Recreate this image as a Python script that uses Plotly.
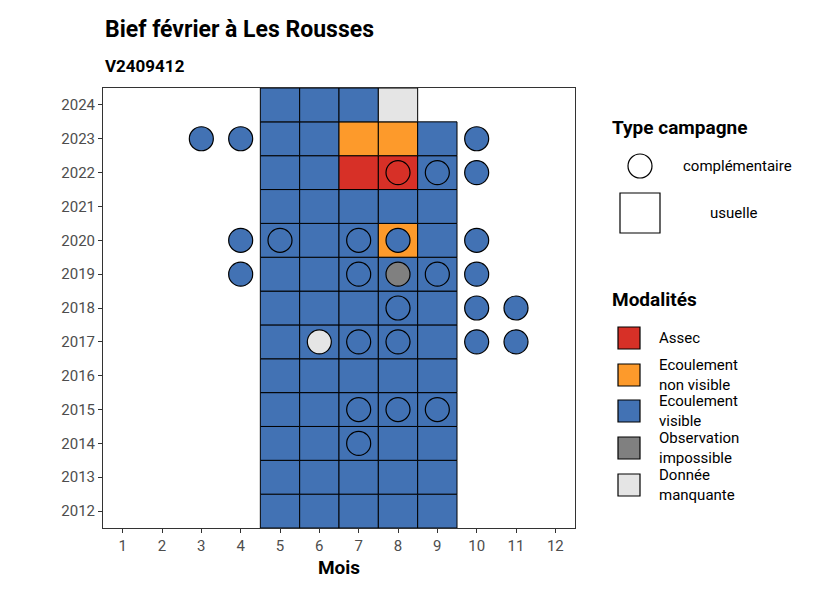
import plotly.graph_objects as go

# Tiles (usual campaigns): year, month, modality
YEARS = list(range(2012, 2025))
MONTHS = list(range(1, 13))
tile_years = [y for y in range(2012, 2024) for m in range(5, 10)] + [2024] * 4
tile_months = [m for y in range(2012, 2024) for m in range(5, 10)] + [5, 6, 7, 8]
overrides = {
    (2023, 7): "Ecoulement non visible", (2023, 8): "Ecoulement non visible",
    (2022, 7): "Assec", (2022, 8): "Assec",
    (2020, 8): "Ecoulement non visible",
    (2024, 8): "Donnée manquante",
}
tile_mods = [overrides.get((y, m), "Ecoulement visible") for y, m in zip(tile_years, tile_months)]

# Complementary campaigns
comp_years = [2023, 2023, 2023, 2022, 2022, 2022, 2020, 2020, 2020, 2020, 2020,
              2019, 2019, 2019, 2019, 2019, 2018, 2018, 2018,
              2017, 2017, 2017, 2017, 2017, 2015, 2015, 2015, 2014]
comp_months = [3, 4, 10, 8, 9, 10, 4, 5, 7, 8, 10,
               4, 7, 8, 9, 10, 8, 10, 11,
               6, 7, 8, 10, 11, 7, 8, 9, 7]
comp_mods = ["Ecoulement visible"] * 3 + ["Assec"] + ["Ecoulement visible"] * 9 + \
            ["Observation impossible"] + ["Ecoulement visible"] * 5 + \
            ["Donnée manquante"] + ["Ecoulement visible"] * 8

MOD_LABELS = ["Assec", "Ecoulement<br>non visible", "Ecoulement<br>visible",
              "Observation<br>impossible", "Donnée<br>manquante"]
MOD_NAMES = ["Assec", "Ecoulement non visible", "Ecoulement visible",
             "Observation impossible", "Donnée manquante"]
MOD_COLORS = ["#d73027", "#fd9a2b", "#4272b4", "#808080", "#e5e5e5"]
cmap = dict(zip(MOD_NAMES, MOD_COLORS))

L, R, T, B = 95, 567, 80, 520
def px_(x):
    return (x - L) / (R - L)
def py_(y):
    return (B - y) / (B - T)

fig = go.Figure()
shapes = []
for y, m, mod in zip(tile_years, tile_months, tile_mods):
    shapes.append(dict(type="rect", xref="x", yref="y", x0=m - 0.5, x1=m + 0.5,
                       y0=y - 0.5, y1=y + 0.5, fillcolor=cmap[mod],
                       line=dict(color="black", width=1), layer="below"))

fig.add_trace(go.Scatter(
    x=comp_months, y=comp_years, mode="markers",
    marker=dict(size=24, color=[cmap[c] for c in comp_mods],
                line=dict(color="black", width=1.2)),
    showlegend=False, hoverinfo="x+y"))

annotations = [
    dict(text="<b>Bief février à Les Rousses</b>", x=px_(95), y=py_(22), font=dict(size=23)),
    dict(text="<b>V2409412</b>", x=px_(95), y=py_(58), font=dict(size=17)),
    dict(text="<b>Type campagne</b>", x=px_(602), y=py_(119), font=dict(size=19)),
    dict(text="complémentaire", x=px_(673), y=py_(158), font=dict(size=15)),
    dict(text="usuelle", x=px_(700), y=py_(205), font=dict(size=15)),
    dict(text="<b>Modalités</b>", x=px_(602), y=py_(291), font=dict(size=19)),
]
for a in annotations:
    a.update(xref="paper", yref="paper", xanchor="left", yanchor="middle", showarrow=False)
    a["font"].update(color="black")

# custom legend
shapes.append(dict(type="circle", xref="paper", yref="paper", x0=px_(620), x1=px_(644),
                   y0=py_(170), y1=py_(146), line=dict(color="black", width=1.2), fillcolor="white"))
shapes.append(dict(type="rect", xref="paper", yref="paper", x0=px_(612), x1=px_(652),
                   y0=py_(225), y1=py_(185), line=dict(color="black", width=1.2), fillcolor="white"))
ys = [330, 367, 403, 440, 477]
for yy, lab, col in zip(ys, MOD_LABELS, MOD_COLORS):
    shapes.append(dict(type="rect", xref="paper", yref="paper", x0=px_(610), x1=px_(632),
                       y0=py_(yy + 11), y1=py_(yy - 11), line=dict(color="black", width=1.2),
                       fillcolor=col))
    annotations.append(dict(text=lab, x=px_(649), y=py_(yy), xref="paper", yref="paper",
                            xanchor="left", yanchor="middle", showarrow=False, align="left",
                            font=dict(size=15, color="black")))

fig.update_layout(
    width=826, height=590, plot_bgcolor="white", paper_bgcolor="white",
    margin=dict(l=L, r=826 - R, t=T, b=590 - B),
    font=dict(family="Roboto, Liberation Sans, Arial", color="#4d4d4d"),
    shapes=shapes, annotations=annotations,
    xaxis=dict(range=[0.5, 12.5], tickvals=MONTHS, showgrid=False, zeroline=False,
               ticks="outside", ticklen=4, tickcolor="#333", tickfont=dict(size=15),
               title=dict(text="<b>Mois</b>", font=dict(size=19, color="black"), standoff=6),
               showline=True, linecolor="#333", mirror=True),
    yaxis=dict(range=[2011.5, 2024.5], tickvals=YEARS, showgrid=False, zeroline=False,
               ticks="outside", ticklen=4, tickcolor="#333", tickfont=dict(size=15),
               showline=True, linecolor="#333", mirror=True),
)
fig.write_html("out.html")
